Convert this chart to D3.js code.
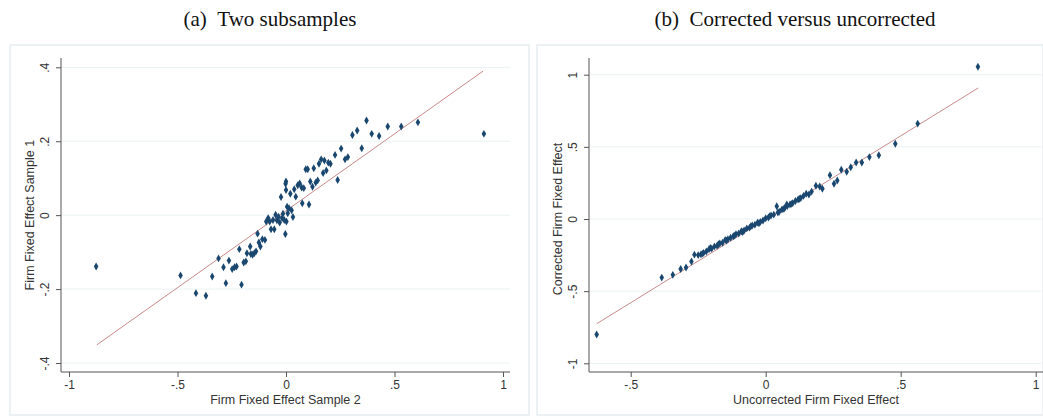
<!DOCTYPE html>
<html>
<head>
<meta charset="utf-8">
<style>
  body { margin: 0; background: #fff; }
  svg { font-family: "Liberation Sans", Arial, sans-serif; }
</style>
</head>
<body>
<svg width="1043" height="416"></svg>
<script src="https://d3js.org/d3.v7.min.js"></script>
<script>
// panel (a): [sample 2, sample 1]
const subsamplePts = [
  [-0.875,-0.139],[-0.486,-0.163],[-0.415,-0.211],[-0.369,-0.218],[-0.34,-0.166],[-0.311,-0.117],
  [-0.288,-0.141],[-0.277,-0.184],[-0.263,-0.123],[-0.248,-0.146],[-0.237,-0.141],[-0.228,-0.139],
  [-0.215,-0.092],[-0.205,-0.188],[-0.195,-0.128],[-0.185,-0.125],[-0.18,-0.103],[-0.165,-0.085],
  [-0.162,-0.105],[-0.154,-0.107],[-0.146,-0.103],[-0.138,-0.098],[-0.131,-0.05],[-0.125,-0.074],
  [-0.118,-0.085],[-0.109,-0.065],[-0.097,-0.067],[-0.091,-0.017],[-0.082,-0.008],[-0.075,-0.017],
  [-0.069,-0.038],[-0.06,-0.013],[-0.054,-0.038],[-0.048,0.001],[-0.042,-0.014],[-0.034,-0.004],
  [-0.029,-0.02],[-0.023,0.049],[-0.018,-0.008],[-0.014,0.004],[-0.008,-0.013],[-0.003,-0.051],
  [-0.002,0.085],[0,0.091],[0,0.068],[0.002,-0.017],[0.005,0.023],[0.008,0.005],[0.014,0.019],
  [0.02,0.058],[0.026,0.013],[0.032,-0.005],[0.038,0.07],[0.045,0.05],[0.054,0.081],[0.063,0.086],
  [0.072,0.075],[0.075,0.032],[0.082,0.073],[0.091,0.124],[0.1,0.124],[0.106,0.029],[0.112,0.091],
  [0.122,0.077],[0.128,0.127],[0.137,0.088],[0.146,0.094],[0.152,0.139],[0.162,0.151],[0.171,0.114],
  [0.177,0.148],[0.186,0.121],[0.195,0.142],[0.205,0.139],[0.226,0.163],[0.238,0.095],[0.254,0.18],
  [0.272,0.151],[0.285,0.157],[0.306,0.217],[0.328,0.229],[0.349,0.181],[0.371,0.256],[0.395,0.22],
  [0.429,0.214],[0.469,0.24],[0.531,0.24],[0.608,0.251],[0.912,0.22]
];
const subsampleFit = [[-0.872,-0.351],[0.909,0.39]];

// panel (b): [uncorrected, corrected]
const correctedPts = [
  [-0.626,-0.80],[-0.385,-0.406],[-0.344,-0.387],[-0.315,-0.346],[-0.295,-0.336],[-0.275,-0.295],
  [-0.264,-0.247],[-0.25,-0.25],[-0.24,-0.245],[-0.23,-0.235],[-0.22,-0.225],[-0.21,-0.21],
  [-0.2,-0.205],[-0.19,-0.19],[-0.18,-0.185],[-0.17,-0.17],[-0.16,-0.165],[-0.15,-0.145],
  [-0.14,-0.14],[-0.13,-0.13],[-0.12,-0.12],[-0.11,-0.105],[-0.1,-0.1],[-0.09,-0.085],
  [-0.08,-0.08],[-0.07,-0.065],[-0.06,-0.06],[-0.05,-0.045],[-0.04,-0.04],[-0.03,-0.025],
  [-0.02,-0.02],[-0.01,-0.01],[0,0.005],[0.01,0.01],[0.02,0.025],[0.03,0.03],[0.041,0.088],
  [0.05,0.05],[0.06,0.065],[0.07,0.075],[0.078,0.101],[0.08,0.09],[0.09,0.1],[0.1,0.11],
  [0.11,0.125],[0.12,0.135],[0.13,0.145],[0.14,0.16],[0.15,0.175],[0.16,0.17],[0.17,0.19],
  [0.186,0.23],[0.2,0.225],[0.21,0.21],[0.238,0.304],[0.253,0.244],[0.265,0.267],[0.28,0.341],
  [0.3,0.327],[0.315,0.359],[0.335,0.392],[0.356,0.392],[0.384,0.429],[0.419,0.442],
  [0.48,0.521],[0.563,0.661],[0.786,1.055],
  [-0.235,-0.24],[-0.205,-0.2],[-0.175,-0.175],[-0.145,-0.15],[-0.115,-0.115],[-0.085,-0.09],
  [-0.055,-0.05],[-0.025,-0.03],[0.015,0.02],[0.045,0.045],[0.065,0.07],[0.095,0.105],[0.125,0.14]
];
const correctedFit = [[-0.626,-0.726],[0.787,0.908]];

const xTicksA = [-1,-0.5,0,0.5,1], yTicksA = [-0.4,-0.2,0,0.2,0.4];
const xTicksB = [-0.5,0,0.5,1], yTicksB = [-1,-0.5,0,0.5,1];

const fmt = v => v === 0 ? "0" : (v < 0 ? "-" : "") + (Math.abs(v) >= 1 ? String(Math.abs(v)) : String(Math.abs(v)).replace(/^0/, ""));

const svg = d3.select("svg");

function panel(o) {
  const g = svg.append("g");
  g.append("rect").attr("x", o.box[0]).attr("y", o.box[1]).attr("width", o.box[2]).attr("height", o.box[3])
    .attr("fill", "#fff").attr("stroke", "#e6eef1").attr("stroke-width", 1.5);
  g.append("text").attr("x", o.titleX).attr("y", 26).attr("text-anchor", "middle")
    .style("font-family", "'Liberation Serif', 'Times New Roman', serif").style("font-size", "21px")
    .attr("fill", "#111").text(o.title);

  const x = d3.scaleLinear().domain(o.xd).range(o.xr);
  const y = d3.scaleLinear().domain(o.yd).range(o.yr);

  // grid
  g.selectAll(".grid").data(o.yTicks).join("line")
    .attr("x1", o.axisX).attr("x2", o.rightX).attr("y1", d => y(d)).attr("y2", d => y(d))
    .attr("stroke", "#eaf2f3").attr("stroke-width", 1);

  const xa = g.append("g").attr("transform", `translate(0,${o.axisY})`)
    .call(d3.axisBottom(x).tickValues(o.xTicks).tickFormat(fmt).tickSize(5));
  xa.select(".domain").attr("d", `M${o.axisX},0H${o.rightX}`);
  const ya = g.append("g").attr("transform", `translate(${o.axisX},0)`)
    .call(d3.axisLeft(y).tickValues(o.yTicks).tickFormat(fmt).tickSize(5));
  ya.select(".domain").attr("d", `M0,${o.topY}V${o.axisY}`);
  [xa, ya].forEach(a => {
    a.selectAll("path, line").attr("stroke", "#555");
    a.selectAll("text").attr("fill", "#333").style("font-size", "12px");
  });
  ya.selectAll("text").attr("transform", "rotate(-90)").attr("x", 0).attr("y", -12)
    .attr("dy", "0").attr("text-anchor", "middle");

  g.append("text").attr("x", (o.axisX + o.rightX) / 2).attr("y", o.axisY + 32)
    .attr("text-anchor", "middle").attr("fill", "#333").style("font-size", "12.5px").text(o.xLabel);
  g.append("text").attr("transform", `translate(${o.axisX - 27},${y((o.yd[0] + o.yd[1]) / 2)}) rotate(-90)`)
    .attr("text-anchor", "middle").attr("fill", "#333").style("font-size", "12.5px").text(o.yLabel);

  g.append("path").datum(o.fit)
    .attr("d", d3.line().x(d => x(d[0])).y(d => y(d[1])))
    .attr("fill", "none").attr("stroke", "#c98a8a").attr("stroke-width", 1);

  g.selectAll(".pt").data(o.pts).join("path")
    .attr("d", d3.symbol(d3.symbolDiamond, 18))
    .attr("transform", d => `translate(${x(d[0])},${y(d[1])})`)
    .attr("fill", "#1a476f");
}

panel({
  box: [10, 45, 519, 370], title: "(a)\u00a0\u00a0Two subsamples", titleX: 270,
  xd: [-1, 1], xr: [69, 503], yd: [-0.4, 0.4], yr: [363, 67.3],
  axisX: 61, axisY: 372, topY: 58, rightX: 510,
  xTicks: xTicksA, yTicks: yTicksA,
  xLabel: "Firm Fixed Effect Sample 2", yLabel: "Firm Fixed Effect Sample 1",
  pts: subsamplePts, fit: subsampleFit
});
panel({
  box: [537, 45, 506, 370], title: "(b)\u00a0\u00a0Corrected versus uncorrected", titleX: 795,
  xd: [0, 1], xr: [765.7, 1035.7], yd: [-1, 1], yr: [363.3, 74.7],
  axisX: 589, axisY: 372, topY: 58, rightX: 1043,
  xTicks: xTicksB, yTicks: yTicksB,
  xLabel: "Uncorrected Firm Fixed Effect", yLabel: "Corrected Firm Fixed Effect",
  pts: correctedPts, fit: correctedFit
});
</script>
</body>
</html>
